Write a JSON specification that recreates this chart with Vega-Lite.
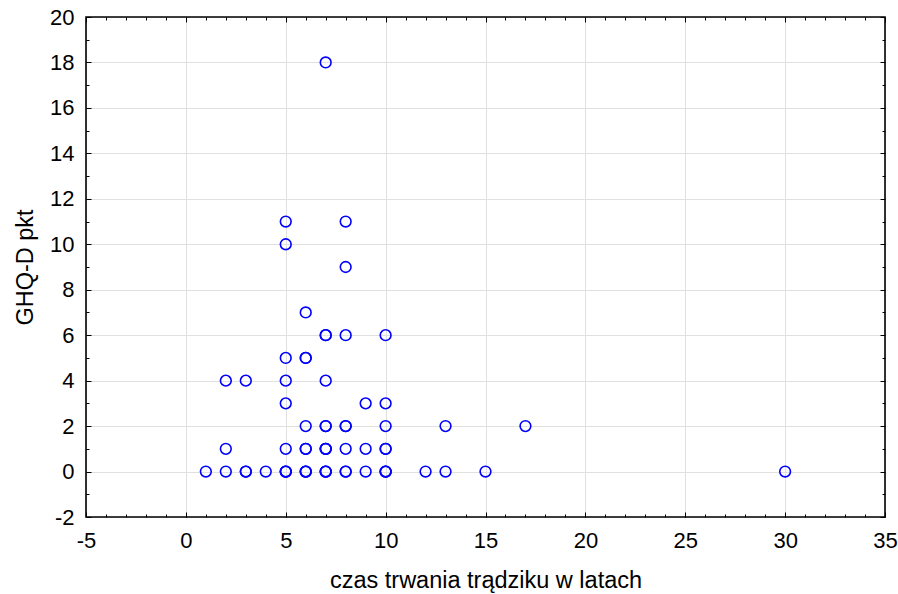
{
  "$schema": "https://vega.github.io/schema/vega-lite/v6.json",
  "width": 799,
  "height": 500,
  "autosize": {"type": "none"},
  "padding": {"left": 86, "top": 17, "right": 13, "bottom": 77},
  "background": "white",
  "config": {
    "view": {"stroke": null},
    "font": "Liberation Sans",
    "axis": {
      "domain": false,
      "labelFont": "Liberation Sans",
      "labelFontSize": 22,
      "labelColor": "black",
      "titleFont": "Liberation Sans",
      "titleFontSize": 23.5,
      "titleFontWeight": "normal",
      "titleColor": "black",
      "tickColor": "black",
      "tickWidth": 1,
      "gridWidth": 1
    }
  },
  "datasets": {
    "pacjenci": [
      {"czas": 1, "ghq": 0}, {"czas": 2, "ghq": 0}, {"czas": 3, "ghq": 0}, {"czas": 3, "ghq": 0},
      {"czas": 4, "ghq": 0}, {"czas": 5, "ghq": 0}, {"czas": 5, "ghq": 0}, {"czas": 5, "ghq": 0},
      {"czas": 6, "ghq": 0}, {"czas": 6, "ghq": 0}, {"czas": 6, "ghq": 0},
      {"czas": 7, "ghq": 0}, {"czas": 7, "ghq": 0}, {"czas": 7, "ghq": 0},
      {"czas": 8, "ghq": 0}, {"czas": 8, "ghq": 0}, {"czas": 9, "ghq": 0},
      {"czas": 10, "ghq": 0}, {"czas": 10, "ghq": 0}, {"czas": 10, "ghq": 0},
      {"czas": 12, "ghq": 0}, {"czas": 13, "ghq": 0}, {"czas": 15, "ghq": 0}, {"czas": 30, "ghq": 0},
      {"czas": 2, "ghq": 1}, {"czas": 5, "ghq": 1}, {"czas": 6, "ghq": 1}, {"czas": 6, "ghq": 1},
      {"czas": 7, "ghq": 1}, {"czas": 7, "ghq": 1}, {"czas": 7, "ghq": 1}, {"czas": 8, "ghq": 1},
      {"czas": 9, "ghq": 1}, {"czas": 10, "ghq": 1}, {"czas": 10, "ghq": 1},
      {"czas": 6, "ghq": 2}, {"czas": 7, "ghq": 2}, {"czas": 7, "ghq": 2}, {"czas": 8, "ghq": 2},
      {"czas": 8, "ghq": 2}, {"czas": 10, "ghq": 2}, {"czas": 13, "ghq": 2}, {"czas": 17, "ghq": 2},
      {"czas": 5, "ghq": 3}, {"czas": 9, "ghq": 3}, {"czas": 10, "ghq": 3},
      {"czas": 2, "ghq": 4}, {"czas": 3, "ghq": 4}, {"czas": 5, "ghq": 4}, {"czas": 7, "ghq": 4},
      {"czas": 5, "ghq": 5}, {"czas": 6, "ghq": 5}, {"czas": 6, "ghq": 5},
      {"czas": 7, "ghq": 6}, {"czas": 7, "ghq": 6}, {"czas": 8, "ghq": 6}, {"czas": 10, "ghq": 6},
      {"czas": 6, "ghq": 7}, {"czas": 8, "ghq": 9}, {"czas": 5, "ghq": 10},
      {"czas": 5, "ghq": 11}, {"czas": 8, "ghq": 11}, {"czas": 7, "ghq": 18}
    ]
  },
  "layer": [
    {
      "data": {"values": [{}]},
      "mark": {"type": "rect", "fill": null, "stroke": "black", "strokeWidth": 1.6},
      "encoding": {
        "x": {
          "datum": -5,
          "type": "quantitative",
          "scale": {"domain": [-5, 35], "nice": false, "zero": false},
          "axis": {
            "orient": "top",
            "title": null,
            "labels": false,
            "grid": false,
            "values": [-5,-4,-3,-2,-1,0,1,2,3,4,5,6,7,8,9,10,11,12,13,14,15,16,17,18,19,20,21,22,23,24,25,26,27,28,29,30,31,32,33,34,35],
            "tickSize": {"condition": {"test": "datum.value % 5 === 0", "value": -5}, "value": -3}
          }
        },
        "x2": {"datum": 35},
        "y": {
          "datum": -2,
          "type": "quantitative",
          "scale": {"domain": [-2, 20], "nice": false, "zero": false},
          "axis": {
            "orient": "right",
            "title": null,
            "labels": false,
            "grid": false,
            "values": [-2,-1,0,1,2,3,4,5,6,7,8,9,10,11,12,13,14,15,16,17,18,19,20],
            "tickSize": {"condition": {"test": "datum.value % 2 === 0", "value": -5}, "value": -3}
          }
        },
        "y2": {"datum": 20}
      }
    },
    {
      "data": {"name": "pacjenci"},
      "mark": {"type": "point", "shape": "circle", "filled": false, "color": "#0000ff", "size": 115, "strokeWidth": 1.6, "opacity": 1},
      "encoding": {
        "x": {
          "field": "czas",
          "type": "quantitative",
          "scale": {"domain": [-5, 35], "nice": false, "zero": false},
          "axis": {
            "orient": "bottom",
            "title": "czas trwania trądziku w latach",
            "grid": true,
            "values": [-5,-4,-3,-2,-1,0,1,2,3,4,5,6,7,8,9,10,11,12,13,14,15,16,17,18,19,20,21,22,23,24,25,26,27,28,29,30,31,32,33,34,35],
            "labelExpr": "datum.value % 5 === 0 ? '' + datum.value : ''",
            "labelPadding": 18,
            "labelFlush": false,
            "labelOverlap": false,
            "tickSize": {"condition": {"test": "datum.value % 5 === 0", "value": -5}, "value": -3},
            "gridColor": {"condition": {"test": "datum.value % 5 === 0", "value": "#e0e0e0"}, "value": "transparent"},
            "titleBaseline": "alphabetic",
            "titleY": 70
          }
        },
        "y": {
          "field": "ghq",
          "type": "quantitative",
          "scale": {"domain": [-2, 20], "nice": false, "zero": false},
          "axis": {
            "orient": "left",
            "title": "GHQ-D pkt",
            "grid": true,
            "values": [-2,-1,0,1,2,3,4,5,6,7,8,9,10,11,12,13,14,15,16,17,18,19,20],
            "labelExpr": "datum.value % 2 === 0 ? '' + datum.value : ''",
            "labelPadding": 17,
            "labelFlush": false,
            "labelOverlap": false,
            "tickSize": {"condition": {"test": "datum.value % 2 === 0", "value": -5}, "value": -3},
            "gridColor": {"condition": {"test": "datum.value % 2 === 0", "value": "#e0e0e0"}, "value": "transparent"},
            "titleBaseline": "alphabetic",
            "titleAngle": -90,
            "titleX": -54,
            "titleY": 250
          }
        }
      }
    }
  ],
  "resolve": {"axis": {"x": "independent", "y": "independent"}}
}
